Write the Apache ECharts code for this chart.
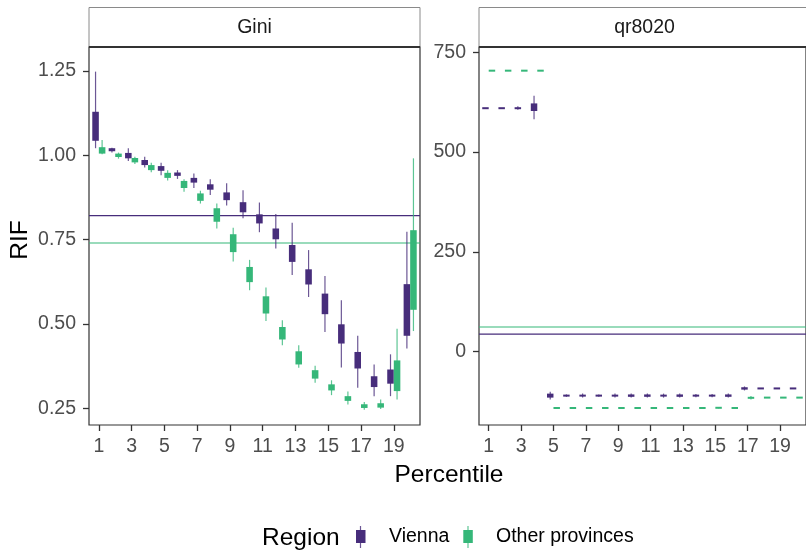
<!DOCTYPE html>
<html>
<head>
<meta charset="utf-8">
<title>RIF by percentile</title>
<style>
  html, body { margin: 0; padding: 0; background: #fff; }
  #main { width: 806px; height: 550px; }
</style>
</head>
<body>
<div id="main"></div>
<script src="https://cdn.jsdelivr.net/npm/echarts@6/dist/echarts.min.js"></script>
<script>
// x axis: percentile groups
var percentiles = [1, 2, 3, 4, 5, 6, 7, 8, 9, 10, 11, 12, 13, 14, 15, 16, 17, 18, 19, 20];
var xTicks = [1, 3, 5, 7, 9, 11, 13, 15, 17, 19];
var giniTicks = [0.25, 0.5, 0.75, 1.0, 1.25];
var qrTicks = [0, 250, 500, 750];

// each row: [whisker low, box low, box high, whisker high]
var giniVienna = [
  [1.021, 1.043, 1.129, 1.248], [1.008, 1.012, 1.021, 1.022], [0.983, 0.991, 1.007, 1.021],
  [0.964, 0.971, 0.986, 0.996], [0.941, 0.954, 0.968, 0.978], [0.930, 0.939, 0.949, 0.956],
  [0.903, 0.919, 0.933, 0.946], [0.882, 0.898, 0.914, 0.929], [0.851, 0.867, 0.890, 0.917],
  [0.813, 0.831, 0.861, 0.896], [0.772, 0.798, 0.825, 0.860], [0.724, 0.751, 0.783, 0.826],
  [0.645, 0.684, 0.734, 0.800], [0.580, 0.617, 0.662, 0.719], [0.476, 0.529, 0.590, 0.642],
  [0.371, 0.442, 0.499, 0.570], [0.311, 0.368, 0.417, 0.465], [0.286, 0.313, 0.345, 0.380],
  [0.286, 0.323, 0.365, 0.410], [0.427, 0.465, 0.618, 0.773]
];
var giniOther = [
  [1.003, 1.005, 1.024, 1.045], [0.990, 0.995, 1.005, 1.008], [0.974, 0.979, 0.992, 0.996],
  [0.950, 0.956, 0.971, 0.978], [0.925, 0.933, 0.948, 0.956], [0.892, 0.903, 0.924, 0.929],
  [0.857, 0.865, 0.887, 0.895], [0.783, 0.803, 0.843, 0.857], [0.685, 0.713, 0.766, 0.785],
  [0.600, 0.624, 0.669, 0.690], [0.509, 0.531, 0.582, 0.608], [0.437, 0.454, 0.491, 0.511],
  [0.370, 0.380, 0.419, 0.437], [0.326, 0.338, 0.363, 0.376], [0.289, 0.303, 0.321, 0.333],
  [0.261, 0.272, 0.286, 0.300], [0.246, 0.251, 0.262, 0.269], [0.248, 0.252, 0.265, 0.276],
  [0.276, 0.301, 0.392, 0.486], [0.479, 0.542, 0.778, 0.991]
];
var qrVienna = [
  [610, 610, 610, 610], [610, 610, 610, 610], [606, 608, 612, 615], [582, 603, 622, 641],
  [-120, -115, -105, -100], [-113, -111, -109, -107], [-115, -112, -108, -105], [-113, -111, -109, -107],
  [-115, -112, -108, -105], [-115, -113, -107, -105], [-115, -113, -107, -105], [-115, -112, -108, -105],
  [-115, -113, -107, -105], [-114, -112, -108, -106], [-114, -112, -108, -106], [-115, -113, -107, -105],
  [-97, -95, -89, -87], [-92, -92, -92, -92], [-92, -92, -92, -92], [-92, -92, -92, -92]
];
var qrOther = [
  [704, 704, 704, 704], [704, 704, 704, 704], [704, 704, 704, 704], [704, 704, 704, 704],
  [-141, -141, -141, -141], [-141, -141, -141, -141], [-141, -141, -141, -141], [-141, -141, -141, -141],
  [-141, -141, -141, -141], [-141, -141, -141, -141], [-141, -141, -141, -141], [-141, -141, -141, -141],
  [-141, -141, -141, -141], [-141, -141, -141, -141], [-142, -141, -140, -139], [-141, -141, -141, -141],
  [-120, -117, -114, -111], [-115, -115, -115, -115], [-115, -115, -115, -115], [-115, -115, -115, -115]
];
// horizontal reference lines [Vienna, Other provinces]
var giniRef = [0.821, 0.740];
var qrRef = [44, 62];

var xMin = 0.4, xMax = 20.6;
var purple = '#472D7B';
var green = '#35B779';
var font = '"Liberation Sans", Arial, sans-serif';

function boxSeries(name, rows, idx, color, shift) {
  return {
    type: 'custom',
    name: name,
    xAxisIndex: idx,
    yAxisIndex: idx,
    clip: true,
    z: 3,
    data: rows.map(function (r, i) { return [percentiles[i]].concat(r); }),
    encode: { x: 0, y: [1, 2, 3, 4] },
    renderItem: function (params, api) {
      var x = api.value(0) + shift;
      var lo = api.coord([x, api.value(1)]);
      var q1 = api.coord([x, api.value(2)]);
      var q3 = api.coord([x, api.value(3)]);
      var hi = api.coord([x, api.value(4)]);
      var w = api.size([0.4, 0])[0];
      var h = Math.abs(q1[1] - q3[1]);
      var top = Math.min(q1[1], q3[1]);
      if (h < 2) { top = (q1[1] + q3[1]) / 2 - 1; h = 2; }
      return {
        type: 'group',
        children: [
          { type: 'line', shape: { x1: lo[0], y1: lo[1], x2: hi[0], y2: hi[1] },
            style: { stroke: color, lineWidth: 1.2, opacity: 0.8 } },
          { type: 'rect', shape: { x: lo[0] - w / 2, y: top, width: w, height: h },
            style: { fill: color } }
        ]
      };
    }
  };
}

// flat reference line across the whole panel
function refLine(name, value, idx, color) {
  return {
    type: 'line',
    name: name,
    xAxisIndex: idx,
    yAxisIndex: idx,
    z: 2,
    silent: true,
    showSymbol: false,
    symbol: 'none',
    data: [[xMin, value], [xMax, value]],
    lineStyle: { color: color, width: 1.1 }
  };
}

function xAxis(idx) {
  return {
    type: 'value', gridIndex: idx, min: xMin, max: xMax,
    axisLine: { show: false, onZero: false },
    splitLine: { show: false },
    axisTick: { show: true, length: 6, customValues: xTicks, lineStyle: { color: '#333', width: 1.3 } },
    axisLabel: { customValues: xTicks, color: '#4d4d4d', fontSize: 19.5, fontFamily: font, margin: 12 }
  };
}

var chart = echarts.init(document.getElementById('main'));
var option = {
  animation: false,
  grid: [
    { left: 89, top: 47, width: 331, height: 378, show: true, borderColor: '#333', borderWidth: 1.2 },
    { left: 479, top: 47, width: 331, height: 378, show: true, borderColor: '#333', borderWidth: 1.2 }
  ],
  xAxis: [xAxis(0), xAxis(1)],
  yAxis: [
    {
      type: 'value', gridIndex: 0, min: 0.2005, max: 1.321,
      axisLine: { show: false, onZero: false }, splitLine: { show: false },
      axisTick: { show: true, length: 6, customValues: giniTicks, lineStyle: { color: '#333', width: 1.3 } },
      axisLabel: { customValues: giniTicks, color: '#4d4d4d', fontSize: 19.5, fontFamily: font, margin: 13,
        formatter: function (v) { return v.toFixed(2); } }
    },
    {
      type: 'value', gridIndex: 1, min: -183.6, max: 763.3,
      axisLine: { show: false, onZero: false }, splitLine: { show: false },
      axisTick: { show: true, length: 6, customValues: qrTicks, lineStyle: { color: '#333', width: 1.3 } },
      axisLabel: { customValues: qrTicks, color: '#4d4d4d', fontSize: 19.5, fontFamily: font, margin: 13 }
    }
  ],
  series: [
    refLine('Vienna', giniRef[0], 0, purple),
    refLine('Other provinces', giniRef[1], 0, green),
    refLine('Vienna', qrRef[0], 1, purple),
    refLine('Other provinces', qrRef[1], 1, green),
    boxSeries('Vienna', giniVienna, 0, purple, -0.2),
    boxSeries('Other provinces', giniOther, 0, green, 0.2),
    boxSeries('Vienna', qrVienna, 1, purple, -0.2),
    boxSeries('Other provinces', qrOther, 1, green, 0.2)
  ],
  graphic: [
    // facet strips
    { type: 'rect', shape: { x: 89, y: 7.5, width: 331, height: 39.5 }, style: { fill: '#fff', stroke: '#8a8a8a', lineWidth: 1 } },
    { type: 'rect', shape: { x: 479, y: 7.5, width: 331, height: 39.5 }, style: { fill: '#fff', stroke: '#8a8a8a', lineWidth: 1 } },
    { type: 'line', shape: { x1: 89, y1: 47, x2: 420, y2: 47 }, style: { stroke: '#333', lineWidth: 2 } },
    { type: 'line', shape: { x1: 479, y1: 47, x2: 810, y2: 47 }, style: { stroke: '#333', lineWidth: 2 } },
    { type: 'text', x: 254.5, y: 28, style: { text: 'Gini', font: '19.5px ' + font, fill: '#1a1a1a', align: 'center', verticalAlign: 'middle' } },
    { type: 'text', x: 644.5, y: 28, style: { text: 'qr8020', font: '19.5px ' + font, fill: '#1a1a1a', align: 'center', verticalAlign: 'middle' } },
    // axis titles
    { type: 'text', x: 449, y: 475, style: { text: 'Percentile', font: '24.5px ' + font, fill: '#000', align: 'center', verticalAlign: 'middle' } },
    { type: 'text', x: 20, y: 240, rotation: Math.PI / 2, style: { text: 'RIF', font: '24.5px ' + font, fill: '#000', align: 'center', verticalAlign: 'middle' } },
    // legend
    { type: 'text', x: 262, y: 538, style: { text: 'Region', font: '24.5px ' + font, fill: '#000', align: 'left', verticalAlign: 'middle' } },
    { type: 'line', shape: { x1: 360.5, y1: 526, x2: 360.5, y2: 548 }, style: { stroke: purple, lineWidth: 1.2, opacity: 0.8 } },
    { type: 'rect', shape: { x: 356, y: 530, width: 9.5, height: 13 }, style: { fill: purple } },
    { type: 'text', x: 389, y: 537, style: { text: 'Vienna', font: '19.5px ' + font, fill: '#000', align: 'left', verticalAlign: 'middle' } },
    { type: 'line', shape: { x1: 468, y1: 526, x2: 468, y2: 548 }, style: { stroke: green, lineWidth: 1.2, opacity: 0.8 } },
    { type: 'rect', shape: { x: 463.3, y: 530, width: 9.5, height: 13 }, style: { fill: green } },
    { type: 'text', x: 496, y: 537, style: { text: 'Other provinces', font: '19.5px ' + font, fill: '#000', align: 'left', verticalAlign: 'middle' } }
  ]
};
chart.setOption(option);
</script>
</body>
</html>
